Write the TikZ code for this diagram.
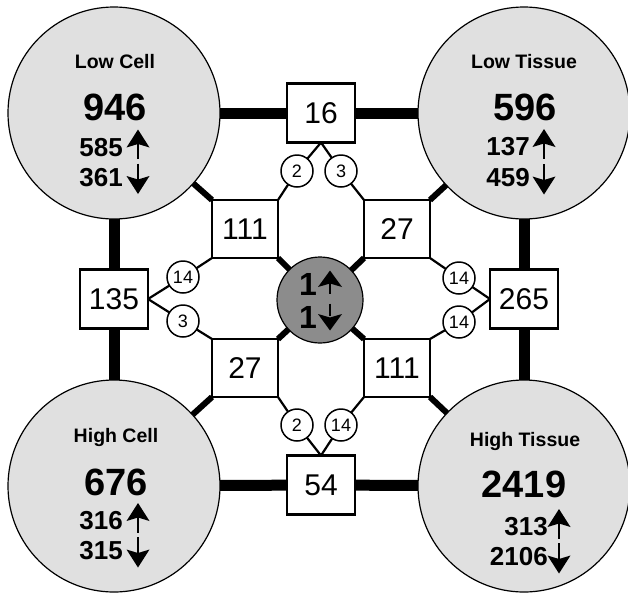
\documentclass[tikz,border=0pt]{standalone}
\usepackage{fontspec}
\setmainfont{Liberation Sans}
\usetikzlibrary{backgrounds,calc}
\definecolor{lightg}{gray}{0.88}
\definecolor{midg}{gray}{0.55}
\begin{document}
\begin{tikzpicture}[x=1pt,y=-1pt,
  bigc/.style={circle,draw,line width=1.2pt,fill=lightg,minimum size=212pt,inner sep=0pt,outer sep=0pt},
  ctrc/.style={circle,draw,line width=1.2pt,fill=midg,minimum size=86pt,inner sep=0pt,outer sep=0pt},
  dbox/.style={draw,line width=2.5pt,fill=white,minimum width=66pt,minimum height=58pt,inner sep=0pt,outer sep=0pt,font=\fontsize{30}{30}\selectfont},
  ebox/.style={dbox,minimum width=68pt,minimum height=59pt},
  lab/.style={circle,draw,line width=1.5pt,fill=white,minimum size=32pt,inner sep=0pt,font=\fontsize{18}{18}\selectfont},
  ttl/.style={font=\bfseries\fontsize{19.5}{19.5}\selectfont,inner sep=0pt},
  bignum/.style={font=\bfseries\fontsize{38}{38}\selectfont,inner sep=0pt},
  arrn/.style={font=\bfseries\fontsize{26}{26}\selectfont,inner sep=0pt,anchor=east},
  ctrn/.style={font=\bfseries\fontsize{32}{32}\selectfont,inner sep=0pt,anchor=east},
  thickE/.style={line width=11pt},
  thickD/.style={line width=6pt},
  thinL/.style={line width=2.2pt,line join=round},
  uparr/.pic={\draw[line width=2.6pt] (0,11.5) -- (0,-5);
              \fill (0,-18) -- (11.5,0) -- (0,-3.5) -- (-11.5,0) -- cycle;},
  dnarr/.pic={\draw[line width=2.6pt] (0,-14) -- (0,3);
              \fill (0,16.5) -- (11.5,-1.5) -- (0,2) -- (-11.5,-1.5) -- cycle;},
  cuparr/.pic={\draw[line width=2.8pt] (0,9.5) -- (0,-1);
               \fill (0,-13.5) -- (12,3) -- (0,-0.5) -- (-12,3) -- cycle;},
  cdnarr/.pic={\draw[line width=2.8pt] (0,-13.5) -- (0,-1);
                \fill (0,13.5) -- (12,-3) -- (0,0.5) -- (-12,-3) -- cycle;}]
\useasboundingbox (0,0) rectangle (628,592);
% big circles
\node[bigc] (lc) at (114,113) {};
\node[bigc] (lt) at (524,113) {};
\node[bigc] (hc) at (114,486) {};
\node[bigc] (ht) at (524,486) {};
\node[ctrc] (ctr) at (320,300) {};
% edge boxes
\node[ebox] (b16) at (321,113) {16};
\node[ebox] (b54) at (321,485) {54};
\node[ebox] (b135) at (114,299) {135};
\node[ebox] (b265) at (524,299) {265};
% diagonal boxes
\node[dbox] (dtl) at (245,229) {111};
\node[dbox] (dtr) at (397,229) {27};
\node[dbox] (dbl) at (245,368) {27};
\node[dbox] (dbr) at (397,368) {111};
% small label circles
\node[lab] (l2t) at (297,171) {2};
\node[lab] (l3t) at (341,171) {3};
\node[lab] (l14l) at (183,277) {14};
\node[lab] (l3l) at (183,321) {3};
\node[lab] (l14ra) at (459,278) {14};
\node[lab] (l14rb) at (459,322) {14};
\node[lab] (l2b) at (297,425) {2};
\node[lab] (l14b) at (341,425) {14};
% connectors
\begin{scope}[on background layer]
\draw[thickE] (lc.center) -- (b16.center) -- (lt.center);
\draw[thickE] (hc.center) -- (b54.center) -- (ht.center);
\draw[thickE] (lc.center) -- (b135.center) -- (hc.center);
\draw[thickE] (lt.center) -- (b265.center) -- (ht.center);
\draw[thickD] (dtl.north west) -- (lc.center);
\draw[thickD] (dtl.south east) -- (ctr.center);
\draw[thickD] (dtr.north east) -- (lt.center);
\draw[thickD] (dtr.south west) -- (ctr.center);
\draw[thickD] (dbl.south west) -- (hc.center);
\draw[thickD] (dbl.north east) -- (ctr.center);
\draw[thickD] (dbr.south east) -- (ht.center);
\draw[thickD] (dbr.north west) -- (ctr.center);
\draw[thinL] (b16.south) -- (l2t.center) -- (dtl.north east);
\draw[thinL] (b16.south) -- (l3t.center) -- (dtr.north west);
\draw[thinL] (b135.east) -- (l14l.center) -- (dtl.south west);
\draw[thinL] (b135.east) -- (l3l.center) -- (dbl.north west);
\draw[thinL] (b265.west) -- (l14ra.center) -- (dtr.south east);
\draw[thinL] (b265.west) -- (l14rb.center) -- (dbr.north east);
\draw[thinL] (b54.north) -- (l2b.center) -- (dbl.south east);
\draw[thinL] (b54.north) -- (l14b.center) -- (dbr.south west);
\end{scope}
% Low Cell
\node[ttl] (lctt) at (115,62) {Low Cell};
\node[bignum] (lcn) at (115,107) {946};
\node[arrn] (lcu) at (123,147.5) {585};
\pic at ($(lcu.east)+(15,0)$) {uparr};
\node[arrn] (lcd) at (123,177.5) {361};
\pic at ($(lcd.east)+(15,0)$) {dnarr};
% Low Tissue
\node[ttl] (ltt) at (524,62) {Low Tissue};
\node[bignum] (ltn) at (525,107) {596};
\node[arrn] (ltu) at (530,147) {137};
\pic at ($(ltu.east)+(14,0)$) {uparr};
\node[arrn] (ltd) at (530,178) {459};
\pic at ($(ltd.east)+(14,0)$) {dnarr};
% High Cell
\node[ttl] (hctt) at (116,437) {High Cell};
\node[bignum] (hcn) at (116,482) {676};
\node[arrn] (hcu) at (123,521) {316};
\pic at ($(hcu.east)+(15,0)$) {uparr};
\node[arrn] (hcd) at (123,551) {315};
\pic at ($(hcd.east)+(15,0)$) {dnarr};
% High Tissue
\node[ttl] (htt) at (525,441) {High Tissue};
\node[bignum] (htn) at (524,484) {2419};
\node[arrn] (htu) at (548,527) {313};
\pic at ($(htu.east)+(11,0)$) {uparr};
\node[arrn] (htd) at (548,557) {2106};
\pic at ($(htd.east)+(11,0)$) {dnarr};
% centre
\node[ctrn] (cu) at (317,284) {1};
\pic at ($(cu.east)+(13,0)$) {cuparr};
\node[ctrn] (cd) at (317,317) {1};
\pic at ($(cd.east)+(13,0)$) {cdnarr};
\end{tikzpicture}
\end{document}
